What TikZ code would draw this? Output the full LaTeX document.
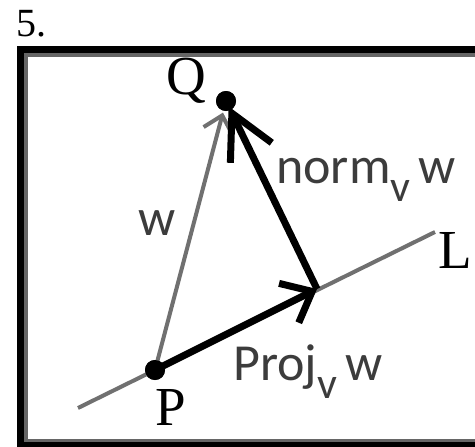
\documentclass[tikz,border=0pt]{standalone}
\usepackage{fontspec}
\setmainfont{Liberation Serif}
\newfontfamily\labfont{Carlito}
\usetikzlibrary{arrows.meta}
\definecolor{labc}{HTML}{3C3C3C}
\definecolor{linegray}{HTML}{707070}
\definecolor{framegray}{HTML}{666666}
\newcommand{\subv}{\raisebox{-18pt}{\fontsize{44}{44}\selectfont v}}
\begin{document}
\begin{tikzpicture}[x=1pt,y=-1pt,
  dot/.style={circle,fill=black,inner sep=0pt,minimum size=20pt},
  serlab/.style={anchor=base,inner sep=0pt,font=\fontsize{55}{55}\selectfont},
  sanslab/.style={anchor=base west,inner sep=0pt,text=labc,font=\labfont\fontsize{52}{52}\selectfont},
  thinline/.style={draw=linegray,line width=4pt},
  wvec/.style={draw=linegray,line width=4pt,-{Straight Barb[length=16pt,width=30pt]},shorten >=12pt},
  normvec/.style={draw=black,line width=7pt,-{Straight Barb[length=44pt,width=46pt]},shorten >=6pt},
  projvec/.style={draw=black,line width=7pt,-{Straight Barb[length=26pt,width=44pt]}}
]
\useasboundingbox (0,0) rectangle (475,447);
\clip (0,0) rectangle (475,447);
% frame
\fill[black] (17,46) rectangle (500,470);
\fill[framegray] (24,53) rectangle (500,442);
\fill[white] (28,57) rectangle (500,439);
% title
\node[anchor=base west,inner sep=0pt,font=\fontsize{40}{40}\selectfont] (num) at (16,37) {5.};
% points
\coordinate (L1) at (78,408);
\coordinate (L2) at (435,232);
\coordinate (R) at (317,289);
\node[dot] (P) at (155,370) {};
\node[dot] (Q) at (226,101) {};
% line L
\draw[thinline] (L1) -- (L2);
% vectors
\draw[wvec] (P.center) -- (Q.center);
\draw[normvec] (R) -- (Q.center);
\draw[projvec] (P.center) -- (R);
\node[dot] at (P) {};
\node[dot] at (Q) {};
% labels
\node[serlab] (Qlab) at (186,94) {Q};
\node[serlab] (Plab) at (171,425) {P};
\node[serlab] (Llab) at (455,268) {L};
\node[sanslab,anchor=base] (wlab) at (157,235) {w};
\node[sanslab] (normlab) at (276,183) {norm\subv\hspace{8pt}w};
\node[sanslab] (projlab) at (233,380) {Proj\subv\hspace{8pt}w};
\end{tikzpicture}
\end{document}
